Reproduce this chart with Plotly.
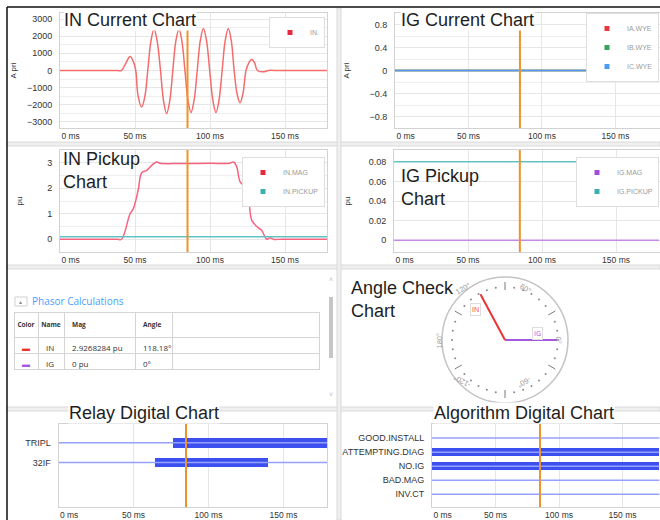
import math
import plotly.graph_objects as go

W, H = 660, 520
NB = "\u00a0"

# ---------------- data ----------------
cursor_ms = 85.0
x_tick_vals = [0, 50, 100, 150]
x_tick_text = ["0 ms", "50 ms", "100 ms", "150 ms"]

# IN Current chart (A pri): points
in_cur_t = [0, 38, 41, 44.0, 46.7, 49.0, 50.5, 52.0, 54.4, 56.6, 58.5, 60.6, 62.7, 64.8, 67.0,
            69.0, 71.1, 73.2, 75.2, 77.2, 79.3, 81.3, 83.3, 85.3, 87.3, 89.4, 91.5,
            93.5, 95.6, 97.7, 99.8, 101.9, 104.0, 106.0, 108.1, 110.1, 112.2, 114.2, 116.1,
            118.0, 120.0, 122.0, 124.0, 125.9, 127.8, 129.7, 131.6, 135.4, 139.0, 145.0, 179.0]
in_cur_v = [0, 0, 0, 450, 810, 500, 0, -1450, -2130, -1500, 0, 1700, 2420, 1700, 0,
            -1750, -2500, -1750, 0, 1700, 2420, 1700, 0, -1730, -2450, -1730, 0,
            1730, 2450, 1730, 0, -1730, -2450, -1730, 0, 1730, 2450, 1730, 0,
            -1330, -1880, -1330, 0, 450, 640, 450, 0, -80, 0, 0, 0]

# IG Current chart (A pri)
ig_cur_t = [0, 179.0]
ia_wye = [0, 0]
ib_wye = [0, 0]
ic_wye = [0, 0]

# IN Pickup chart (pu)
in_mag_t = [0, 38, 41, 46.7, 48.9, 52.2, 54.4, 57.8, 61.1, 64.4, 66.7, 80, 100, 113.3,
            115.6, 117.8, 120.0, 123.3, 125.6, 127.8, 131.1, 134.4, 136.7, 137.8,
            140.0, 142.2, 148.0, 179.0]
in_mag_v = [0, 0, 0, 1.0, 1.2, 1.95, 2.6, 2.7, 2.9, 3.03, 2.98, 2.97, 2.98, 2.98,
            3.03, 2.85, 2.26, 2.05, 1.65, 0.75, 0.5, 0.35, 0.09, 0.0,
            0.06, 0.0, 0.0, 0.0]
in_pickup_t = [0, 179.0]
in_pickup_v = [0.1, 0.1]

# IG Pickup chart (pu)
ig_pk_t = [0, 179.0]
ig_mag_v = [0, 0]
ig_pickup_v = [0.08, 0.08]

# Phasor calculations
phasor_names = ["IN", "IG"]
phasor_mag_pu = [2.9268284, 0.0]
phasor_angle_deg = [118.18, 0.0]

# Angle check dial labels (degrees)
dial_label_deg = [0, 60, 120, 180, -120, -60]

# Relay digital chart (ms)
relay_names = ["TRIPL", "32IF"]
relay_on_start = [76.0, 63.7]
relay_on_end = [179.0, 139.2]

# Algorithm digital chart (ms)
algo_names = ["GOOD.INSTALL", "ATTEMPTING.DIAG", "NO.IG", "BAD.MAG", "INV.CT"]
algo_on_start = [None, 0.0, 0.0, None, None]
algo_on_end = [None, 179.0, 179.0, None, None]
record_end_ms = 179.0

# ---------------- styles ----------------
FONT = "Liberation Sans"
C_IN = "#f36d6d"
C_INMAG = "#f7637f"
C_TEAL = "#62c2c2"
C_IGMAG = "#c58ae8"
C_IA, C_IB, C_IC = "#e8383d", "#3aa35a", "#4d9bf0"
C_CURSOR = "#f0922a"
C_OFF = "#95a1ff"
C_ON = "#3c50f0"
PHASOR_COLORS = ["#ea3434", "#a45ae0"]
GRID = "#e6e6e6"
FRAME = "#d2d2d2"


def X(px):
    return px / W


def Y(py):
    return 1 - py / H


def fmt(v):
    s = f"{v:.7f}".rstrip("0").rstrip(".")
    return s if s else "0"


xticktext = [NB * 9 + x_tick_text[0]] + x_tick_text[1:]

fig = go.Figure()

# ---- IN Current ----
fig.add_trace(go.Scatter(x=in_cur_t, y=in_cur_v, mode="lines", line=dict(color=C_IN, width=1.5, shape="spline"),
                         showlegend=False, xaxis="x", yaxis="y"))
fig.add_trace(go.Scatter(x=[None], y=[None], mode="markers", name="IN.",
                         marker=dict(symbol="square", size=5, color="#e8283c"),
                         legend="legend", xaxis="x", yaxis="y"))

# ---- IG Current ----
for nm, vals, col in [("IA.WYE", ia_wye, C_IA), ("IB.WYE", ib_wye, C_IB), ("IC.WYE", ic_wye, C_IC)]:
    fig.add_trace(go.Scatter(x=ig_cur_t, y=vals, mode="lines", line=dict(color=col, width=1.5),
                             showlegend=False, xaxis="x2", yaxis="y2"))
for nm, col in [("IA.WYE", C_IA), ("IB.WYE", C_IB), ("IC.WYE", C_IC)]:
    fig.add_trace(go.Scatter(x=[None], y=[None], mode="markers", name=nm,
                             marker=dict(symbol="square", size=5, color=col),
                             legend="legend2", xaxis="x2", yaxis="y2"))

# ---- IN Pickup ----
fig.add_trace(go.Scatter(x=in_mag_t, y=in_mag_v, mode="lines", line=dict(color=C_INMAG, width=1.5, shape="spline"),
                         showlegend=False, xaxis="x3", yaxis="y3"))
fig.add_trace(go.Scatter(x=in_pickup_t, y=in_pickup_v, mode="lines", line=dict(color=C_TEAL, width=1.5),
                         showlegend=False, xaxis="x3", yaxis="y3"))
for nm, col in [("IN.MAG", "#e8283c"), ("IN.PICKUP", "#3ab0b0")]:
    fig.add_trace(go.Scatter(x=[None], y=[None], mode="markers", name=nm,
                             marker=dict(symbol="square", size=5, color=col),
                             legend="legend3", xaxis="x3", yaxis="y3"))

# ---- IG Pickup ----
fig.add_trace(go.Scatter(x=ig_pk_t, y=ig_mag_v, mode="lines", line=dict(color=C_IGMAG, width=1.5),
                         showlegend=False, xaxis="x4", yaxis="y4"))
fig.add_trace(go.Scatter(x=ig_pk_t, y=ig_pickup_v, mode="lines", line=dict(color=C_TEAL, width=1.5),
                         showlegend=False, xaxis="x4", yaxis="y4"))
for nm, col in [("IG.MAG", "#a04cd8"), ("IG.PICKUP", "#3ab0b0")]:
    fig.add_trace(go.Scatter(x=[None], y=[None], mode="markers", name=nm,
                             marker=dict(symbol="square", size=5, color=col),
                             legend="legend4", xaxis="x4", yaxis="y4"))

# ---- Phasor table ----
fig.add_trace(go.Table(
    domain=dict(x=[X(14), X(319)], y=[Y(380), Y(312)]),
    columnwidth=[24, 26, 71, 37, 147],
    header=dict(values=["<b>Color</b>", "<b>Name</b>", "<b>Mag</b>", "<b>Angle</b>", ""],
                height=14, align=["center", "center", "left", "left", "left"], fill_color="white",
                line=dict(color="#d4d4d4", width=1),
                font=dict(family="Open Sans", size=6.5, color="#333")),
    cells=dict(values=[["\u25ac"] * len(phasor_names), phasor_names,
                       [fmt(m) + " pu" for m in phasor_mag_pu],
                       [fmt(a) + "\u00b0" for a in phasor_angle_deg],
                       [""] * len(phasor_names)],
               height=16, align=["center", "left", "left", "left", "left"], fill_color="white",
               line=dict(color="#d4d4d4", width=1),
               font=dict(family="Open Sans", size=8,
                         color=[PHASOR_COLORS, ["#333"] * 2, ["#333"] * 2, ["#333"] * 2, ["#333"] * 2])),
))

# ---- Angle check dial (polar) ----
R_RANGE = 63 / 52
maj_r, maj_t = [], []
for a in range(30, 360, 60):
    maj_r += [50 / 52, 58 / 52, None]
    maj_t += [a, a, None]
fig.add_trace(go.Scatterpolar(r=maj_r, theta=maj_t, mode="lines", line=dict(color="#7a7a7a", width=1),
                              showlegend=False, subplot="polar"))
minor_t = [a for a in range(0, 360, 10) if a % 60 != 30]
fig.add_trace(go.Scatterpolar(r=[53 / 52] * len(minor_t), theta=minor_t, mode="markers",
                              marker=dict(color="#8a8a8a", size=2), showlegend=False, subplot="polar"))
for nm, ang, col in zip(phasor_names, phasor_angle_deg, PHASOR_COLORS):
    fig.add_trace(go.Scatterpolar(r=[0, 1], theta=[ang, ang], mode="lines", line=dict(color=col, width=2),
                                  showlegend=False, subplot="polar"))

# ---- Relay digital ----
n_slots = 4
off_x, off_y = [], []
rows = [n_slots - i for i in range(len(relay_names))]
for r in rows:
    off_x += [0, record_end_ms, None]
    off_y += [r, r, None]
fig.add_trace(go.Scatter(x=off_x, y=off_y, mode="lines", line=dict(color=C_OFF, width=1.5),
                         showlegend=False, xaxis="x5", yaxis="y5"))
fig.add_trace(go.Bar(orientation="h", y=rows, base=relay_on_start,
                     x=[e - s for s, e in zip(relay_on_start, relay_on_end)],
                     width=0.5, marker=dict(color=C_ON, line=dict(width=0)),
                     showlegend=False, xaxis="x5", yaxis="y5"))

# ---- Algorithm digital ----
arows = [len(algo_names) - i for i in range(len(algo_names))]
off_x, off_y = [], []
for r in arows:
    off_x += [0, record_end_ms, None]
    off_y += [r, r, None]
fig.add_trace(go.Scatter(x=off_x, y=off_y, mode="lines", line=dict(color=C_OFF, width=1.5),
                         showlegend=False, xaxis="x6", yaxis="y6"))
on_rows = [r for r, s in zip(arows, algo_on_start) if s is not None]
on_s = [s for s in algo_on_start if s is not None]
on_e = [e for e in algo_on_end if e is not None]
fig.add_trace(go.Bar(orientation="h", y=on_rows, base=on_s, x=[e - s for s, e in zip(on_s, on_e)],
                     width=0.54, marker=dict(color=C_ON, line=dict(width=0)),
                     showlegend=False, xaxis="x6", yaxis="y6"))

# ---------------- layout ----------------
tickfont = dict(family=FONT, size=8.5, color="#333")


def xax(dom, rng, anchor):
    return dict(domain=dom, range=rng, anchor=anchor, tickvals=x_tick_vals, ticktext=xticktext,
                showline=True, mirror=True, linecolor=FRAME, showgrid=True, gridcolor=GRID, zeroline=False,
                ticks="", tickfont=tickfont, fixedrange=True, automargin=False)


def yax(dom, rng, anchor, dtick=None, minor=None, title=None, standoff=None, **kw):
    d = dict(domain=dom, range=rng, anchor=anchor, showline=True, mirror=True, linecolor=FRAME,
             showgrid=True, gridcolor=GRID, zeroline=False, ticks="", ticklabelstandoff=5,
             tickfont=dict(family=FONT, size=9, color="#333"), fixedrange=True, automargin=False)
    if dtick is not None:
        d.update(tickmode="linear", tick0=0, dtick=dtick)
    if minor is not None:
        d["minor"] = dict(tickmode="linear", tick0=0, dtick=minor, showgrid=True, gridcolor="#eeeeee")
    if title:
        d["title"] = dict(text=title, font=dict(family=FONT, size=8, color="#333"), standoff=standoff)
    d.update(kw)
    return d


row1 = [Y(128), Y(13)]
row2 = [Y(252), Y(150)]
row4 = [Y(507), Y(424)]

layout = dict(
    template="none",
    width=W, height=H, margin=dict(l=0, r=0, t=0, b=0, autoexpand=False),
    paper_bgcolor="white", plot_bgcolor="white",
    font=dict(family=FONT, color="#333"),
    xaxis=xax([X(60), X(327)], [0, 178], "y"),
    yaxis=yax(row1, [-3350, 3350], "x", dtick=1000, minor=500, title="A pri", standoff=9),
    xaxis2=xax([X(395), 1.0], [0, 180.3], "y2"),
    yaxis2=yax(row1, [-1, 1], "x2", dtick=0.4, minor=0.2, title="A pri", standoff=18),
    xaxis3=xax([X(60), X(327)], [0, 178], "y3"),
    yaxis3=yax(row2, [-0.5, 3.5], "x3", dtick=1, minor=0.5, title="pu", standoff=23),
    xaxis4=xax([X(394), 1.0], [0, 179.7], "y4"),
    yaxis4=yax(row2, [-0.012, 0.092], "x4", title="pu", standoff=16,
               tickvals=[0, 0.02, 0.04, 0.06, 0.08], ticktext=["0", "0.02", "0.04", "0.06", "0.08"]),
    xaxis5=xax([X(58.5), X(327)], [0, 179], "y5"),
    yaxis5=yax(row4, [0.75, 4.95], "x5", tickvals=rows, ticktext=relay_names, showgrid=False),
    xaxis6=xax([X(432), 1.0], [0, 179.5], "y6"),
    yaxis6=yax(row4, [0.1, 6.0], "x6", tickvals=arows, ticktext=algo_names, showgrid=False),
    polar=dict(domain=dict(x=[X(442), X(568)], y=[Y(403), Y(277)]), bgcolor="white",
               radialaxis=dict(visible=False, range=[0, R_RANGE]),
               angularaxis=dict(rotation=0, direction="counterclockwise", showgrid=False,
                                showline=True, linecolor="#c4c4c4", linewidth=1.5,
                                ticks="", showticklabels=False)),
    showlegend=True,
    bargap=0,
)

leg_common = dict(bgcolor="white", bordercolor="#dedede", borderwidth=1, xanchor="right", yanchor="top",
                  font=dict(family=FONT, size=7, color="#9a9a9a"), itemwidth=30, tracegroupgap=0,
                  itemclick=False)
layout["legend"] = dict(x=X(325), y=Y(17), **leg_common)
layout["legend2"] = dict(x=X(659), y=Y(13), **leg_common)
layout["legend3"] = dict(x=X(325), y=Y(157), **leg_common)
layout["legend4"] = dict(x=X(659), y=Y(157), **leg_common)

fig.update_layout(**layout)

# ---- panel frame & separators ----
shapes = []
sep_fill, sep_line = "#efefef", "#dadada"
for (y0, y1) in [(142, 146), (265, 269), (407, 411)]:
    shapes.append(dict(type="rect", xref="paper", yref="paper", x0=X(7), x1=1.0, y0=Y(y1), y1=Y(y0),
                       fillcolor=sep_fill, line=dict(color=sep_line, width=1), layer="below"))
shapes.append(dict(type="rect", xref="paper", yref="paper", x0=X(337), x1=X(341), y0=0, y1=Y(8),
                   fillcolor=sep_fill, line=dict(color=sep_line, width=1), layer="below"))
shapes.append(dict(type="line", xref="paper", yref="paper", x0=X(7), x1=1.0, y0=Y(7), y1=Y(7),
                   line=dict(color="#111", width=1.5)))
shapes.append(dict(type="line", xref="paper", yref="paper", x0=X(7), x1=X(7), y0=0, y1=Y(7),
                   line=dict(color="#111", width=1.5)))
# phasor panel: collapse box and scrollbar
shapes.append(dict(type="rect", xref="paper", yref="paper", x0=X(15), x1=X(27), y0=Y(306), y1=Y(297),
                   fillcolor="white", line=dict(color="#cfcfcf", width=1)))
shapes.append(dict(type="rect", xref="paper", yref="paper", x0=X(329), x1=X(333), y0=Y(358), y1=Y(297),
                   fillcolor="#c6c6c6", line=dict(width=0)))
# cursor lines
for xr, yr in [("x", "y"), ("x2", "y2"), ("x3", "y3"), ("x4", "y4"), ("x5", "y5"), ("x6", "y6")]:
    shapes.append(dict(type="line", xref=xr, yref=yr + " domain", x0=cursor_ms, x1=cursor_ms, y0=0, y1=1,
                       line=dict(color=C_CURSOR, width=2), layer="above"))
fig.update_layout(shapes=shapes)

# ---- annotations ----
ann = []


def title(text, x, y, xanchor="left", bg="white"):
    ann.append(dict(text=text, x=X(x), y=Y(y), xref="paper", yref="paper", xanchor=xanchor,
                    yanchor="middle", showarrow=False, align="left", bgcolor=bg, borderpad=0,
                    font=dict(family=FONT, size=18, color="#1e1e1e")))


title("IN Current Chart", 63, 19.6)
title("IG Current Chart", 400, 19.6)
title("IN Pickup<br>Chart", 62, 170.5, bg="rgba(0,0,0,0)")
title("IG Pickup<br>Chart", 400, 187, bg="rgba(0,0,0,0)")
title("Angle Check<br>Chart", 350, 299, bg="rgba(0,0,0,0)")
title("Relay Digital Chart", 144, 412.9, "center")
title("Algorithm Digital Chart", 523.5, 412.9, "center")

ann.append(dict(text="Phasor Calculations", x=X(30), y=Y(301), xref="paper", yref="paper", xanchor="left",
                yanchor="middle", showarrow=False, font=dict(family="Open Sans", size=10, color="#4aa0ff")))
ann.append(dict(text="\u25b4", x=X(21), y=Y(301.5), xref="paper", yref="paper", xanchor="center",
                yanchor="middle", showarrow=False, font=dict(size=6, color="#888")))
ann.append(dict(text="\u02c4", x=X(331), y=Y(279), xref="paper", yref="paper", showarrow=False,
                font=dict(size=7, color="#bbb")))
ann.append(dict(text="\u02c5", x=X(331), y=Y(400), xref="paper", yref="paper", showarrow=False,
                font=dict(size=7, color="#bbb")))

# dial labels (rotated along the ring)
cx, cy, rl = 505, 340, 60
for a in dial_label_deg:
    th = math.radians(a)
    ang = 90 - a
    if ang > 180:
        ang -= 360
    ann.append(dict(text=f"{a}\u00b0", x=X(cx + rl * math.cos(th)), y=Y(cy - rl * math.sin(th)),
                    xref="paper", yref="paper", showarrow=False, textangle=ang,
                    font=dict(family=FONT, size=7.5, color="#9a9a9a")))
# phasor labels
for nm, a, col in zip(phasor_names, phasor_angle_deg, PHASOR_COLORS):
    th = math.radians(a + 10)
    ann.append(dict(text=nm, x=X(cx + 39 * math.cos(th)), y=Y(cy - 39 * math.sin(th)), xref="paper",
                    yref="paper", showarrow=False, bgcolor="white", bordercolor="#dddddd", borderwidth=1,
                    borderpad=1, font=dict(family="Open Sans", size=7, color=col)))

fig.update_layout(annotations=ann)
fig.write_html("out.html", config={"displayModeBar": False},
               post_script="document.body.style.margin='0';document.body.style.padding='0';"
                           "document.body.style.overflow='hidden';")
